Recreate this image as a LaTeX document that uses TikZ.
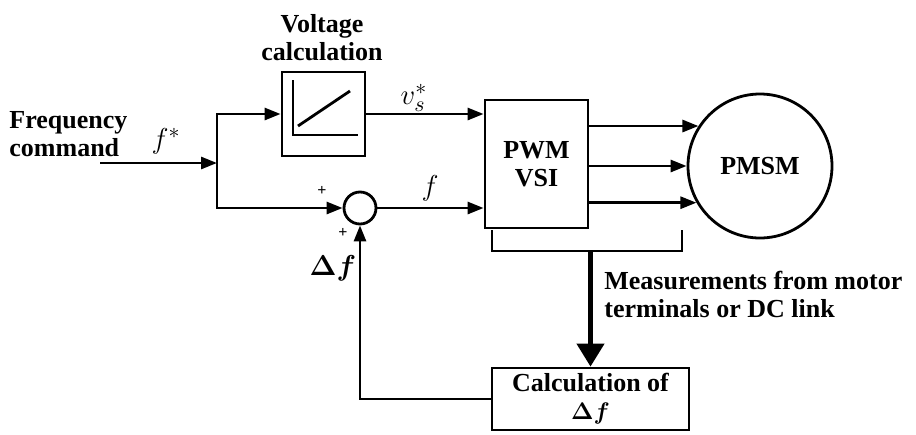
\documentclass[tikz,border=0pt]{standalone}
\usepackage{amsmath}
\usepackage{fontspec}
\setmainfont{Liberation Serif}
\usetikzlibrary{arrows.meta,positioning}

\tikzset{
  block/.style={draw, rectangle, inner sep=0pt},
  lbl/.style={font=\bfseries\fontsize{13}{14}\selectfont, align=left, inner sep=0pt},
  sig/.style={inner sep=0pt, font=\fontsize{15}{15}\selectfont}
}

\begin{document}
\begin{tikzpicture}[x=0.5pt, y=-0.5pt, line width=1.4pt,
    >={Triangle[length=8pt,width=6pt]}]
  \useasboundingbox (0,0) rectangle (916,434);

  % blocks
  \node[block, minimum width=41.5pt, minimum height=42pt] (volt) at (323.5,114) {};
  \node[block, minimum width=51.5pt, minimum height=64pt, lbl, align=center] (pwm) at (536.5,164) {PWM\\VSI};
  \node[draw, circle, minimum size=16pt, inner sep=0pt] (sum) at (360,208) {};
  \node[draw, circle, minimum size=72pt, inner sep=0pt, lbl] (pmsm) at (760,166) {PMSM};
  \node[block, minimum width=98.5pt, minimum height=31pt, lbl, align=center] (calc) at (590.5,399) {Calculation of\\$\boldsymbol{\Delta f}$};

  % ramp inside voltage block
  \draw (293,80) -- (293,135) -- (358,135);
  \draw (298,126) -- (350,91);

  % texts
  \node[lbl, anchor=west] (freq) at (8,134) {Frequency\\command};
  \node[lbl, align=center] (vlab) at (322,38) {Voltage\\calculation};
  \node[lbl, anchor=west] (meas) at (603,294) {Measurements from motor\\terminals or DC link};

  % signals
  \coordinate (in) at (100,163);
  \coordinate (br) at (217,163);
  \draw[->] (in) -- (br);
  \draw[->] (br) |- (volt.west);
  \draw[->] (br) |- (sum.west);
  \draw[->] (volt.east) -- (volt.east -| pwm.west);
  \draw[->] (sum.east) -- (sum.east -| pwm.west);
  \foreach \a in {147,180,210}
    \draw[->] (pmsm.\a -| pwm.east) -- (pmsm.\a);
  \draw[->] (calc.west) -| (sum.south);

  % measurement tap
  \coordinate (tapL) at (492,230);
  \coordinate (tapR) at (682,230);
  \coordinate (tap) at (590.5,251);
  \draw (tapL) |- (tap) -| (tapR);
  \draw[line width=2.2pt, -{Triangle[length=11.5pt,width=13.5pt]}] (tap) -- (calc.north);

  % signal labels
  \node[sig] (fs) at (166,141) {$f^{*}$};
  \node[sig] (vs) at (414,98) {$v_{s}^{*}$};
  \node[sig] (f) at (430,188) {$f$};
  \node[sig, font=\bfseries\footnotesize] (p1) at (322,191) {+};
  \node[sig, font=\bfseries\footnotesize] (p2) at (343,233) {+};
  \node[sig] (df) at (333,268) {$\boldsymbol{\Delta f}$};
\end{tikzpicture}
\end{document}
